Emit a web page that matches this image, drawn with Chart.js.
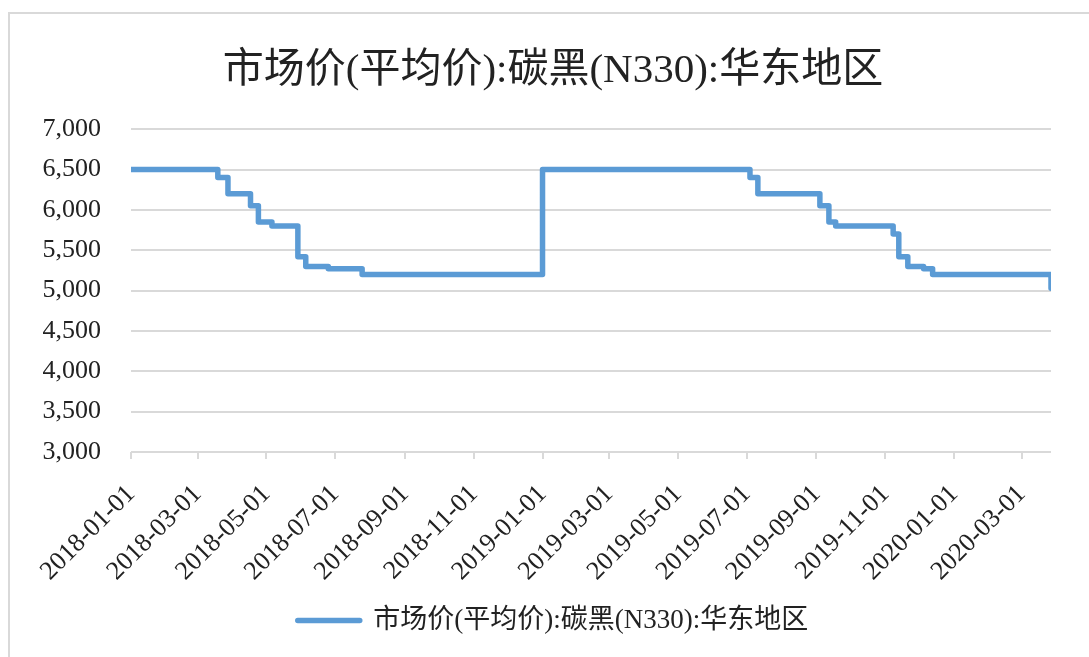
<!DOCTYPE html>
<html lang="zh">
<head>
    <meta charset="UTF-8">
    <meta name="viewport" content="width=device-width, initial-scale=1.0">
    <title>市场价(平均价):碳黑(N330):华东地区</title>
    <script src="https://cdn.jsdelivr.net/npm/chart.js"></script>
    <style>
        html, body {
            margin: 0;
            padding: 0;
            background-color: #ffffff;
            overflow: hidden;
        }

        body {
            width: 1089px;
            height: 657px;
            position: relative;
        }

        /* marco gris del gráfico, se corta por la derecha y abajo */
        .marco {
            position: absolute;
            left: 8px;
            top: 12px;
            width: 1200px;
            height: 700px;
            border: 2px solid #d9d9d9;
            box-sizing: border-box;
        }

        #grafico {
            position: absolute;
            left: 0;
            top: 0;
        }
    </style>
</head>
<body>

<div class="marco"></div>
<canvas id="grafico" width="1089" height="657"></canvas>

<script>
    // Datos: fechas en que cambia el precio y el nuevo precio
    const fechasCambio = [
        '2018-01-01', '2018-03-19', '2018-03-28', '2018-04-17', '2018-04-24',
        '2018-05-06', '2018-05-29', '2018-06-05', '2018-06-25', '2018-07-25',
        '2019-01-01', '2019-07-04', '2019-07-11', '2019-09-04', '2019-09-12',
        '2019-09-18', '2019-11-08', '2019-11-13', '2019-11-21', '2019-12-05',
        '2019-12-13', '2020-03-27'
    ];
    const precios = [
        6500, 6400, 6200, 6050, 5850,
        5800, 5420, 5300, 5270, 5200,
        6500, 6400, 6200, 6050, 5850,
        5800, 5700, 5420, 5300, 5270,
        5200, 5030
    ];

    // Etiquetas del eje X (cada dos meses)
    const etiquetasEje = [
        '2018-01-01', '2018-03-01', '2018-05-01', '2018-07-01', '2018-09-01', '2018-11-01',
        '2019-01-01', '2019-03-01', '2019-05-01', '2019-07-01', '2019-09-01', '2019-11-01',
        '2020-01-01', '2020-03-01'
    ];

    // Eje Y
    const yMin = 3000;
    const yMax = 7000;
    const yPaso = 500;

    const nombreSerie = '市场价(平均价):碳黑(N330):华东地区';
    const fuente = "'Liberation Serif', 'Noto Sans CJK SC', serif";
    const colorTexto = '#222222';
    const colorLinea = '#5b9bd5';
    const colorRejilla = '#d9d9d9';

    // Días desde 2018-01-01
    const base = Date.UTC(2018, 0, 1);
    function aDia(texto) {
        const [a, m, d] = texto.split('-').map(Number);
        return (Date.UTC(a, m - 1, d) - base) / 86400000;
    }

    const puntos = fechasCambio.map((f, i) => ({ x: aDia(f), y: precios[i] }));

    new Chart(document.getElementById('grafico'), {
        type: 'line',
        data: {
            datasets: [{
                label: nombreSerie,
                data: puntos,
                stepped: true,
                borderColor: colorLinea,
                backgroundColor: colorLinea,
                borderWidth: 5.5,
                borderCapStyle: 'round',
                borderJoinStyle: 'round',
                pointRadius: 0,
                fill: false
            }]
        },
        options: {
            responsive: false,
            animation: false,
            layout: {
                padding: { left: 20, right: 3, top: 0, bottom: 13 }
            },
            plugins: {
                title: {
                    display: true,
                    text: nombreSerie,
                    color: colorTexto,
                    font: { family: fuente, size: 41, weight: 'normal' },
                    padding: { top: 47, bottom: 33 }
                },
                legend: {
                    position: 'bottom',
                    labels: {
                        boxWidth: 62,
                        boxHeight: 0,
                        padding: 10,
                        color: colorTexto,
                        font: { family: fuente, size: 27 }
                    }
                },
                tooltip: { enabled: false }
            },
            scales: {
                x: {
                    type: 'linear',
                    min: 0,
                    max: aDia(fechasCambio[fechasCambio.length - 1]),
                    afterBuildTicks: function(escala) {
                        escala.ticks = etiquetasEje.map(e => ({ value: aDia(e) }));
                    },
                    afterFit: function(escala) {
                        escala.height = 145;
                    },
                    grid: {
                        drawOnChartArea: false,
                        drawTicks: true,
                        tickLength: 7,
                        color: colorRejilla,
                        lineWidth: 2
                    },
                    border: { display: false },
                    ticks: {
                        autoSkip: false,
                        minRotation: 45,
                        maxRotation: 45,
                        padding: 20,
                        color: colorTexto,
                        font: { family: fuente, size: 26 },
                        callback: function(valor, indice) {
                            return etiquetasEje[indice];
                        }
                    }
                },
                y: {
                    min: yMin,
                    max: yMax,
                    afterFit: function(escala) {
                        escala.width = 111;
                    },
                    grid: {
                        color: colorRejilla,
                        lineWidth: 2,
                        drawTicks: false
                    },
                    border: { display: false },
                    ticks: {
                        stepSize: yPaso,
                        padding: 30,
                        color: colorTexto,
                        font: { family: fuente, size: 26 },
                        callback: function(valor) {
                            return valor.toLocaleString('en-US');
                        }
                    }
                },
                // eje vacío a la derecha, solo deja el margen derecho
                margenDerecho: {
                    type: 'linear',
                    position: 'right',
                    afterFit: function(escala) {
                        escala.width = 35;
                    },
                    grid: { display: false },
                    border: { display: false },
                    ticks: { display: false }
                }
            }
        }
    });
</script>

</body>
</html>
